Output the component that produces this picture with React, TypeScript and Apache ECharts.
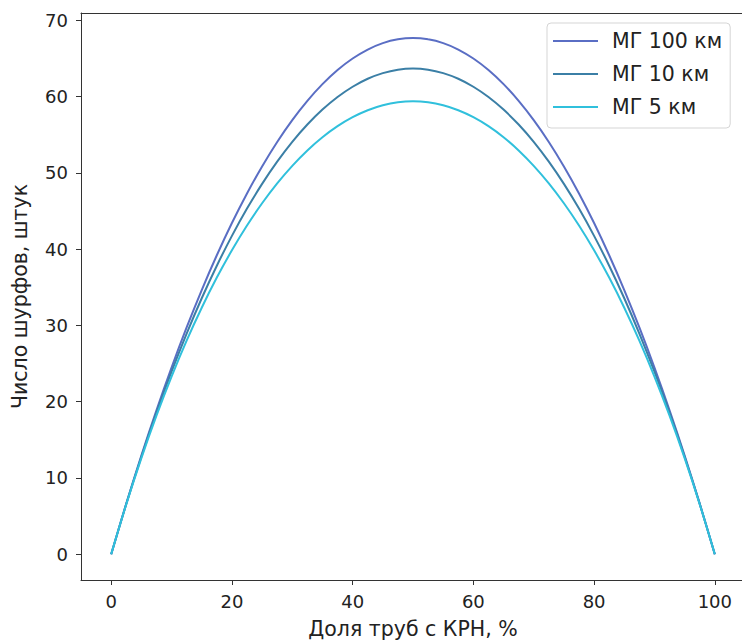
import React, { useEffect, useRef } from "react";
import * as echarts from "echarts";

const xShare = [
  0, 2.5, 5, 7.5, 10, 12.5, 15, 17.5, 20, 22.5, 25, 27.5, 30, 32.5, 35, 37.5, 40, 42.5, 45, 47.5, 50,
  52.5, 55, 57.5, 60, 62.5, 65, 67.5, 70, 72.5, 75, 77.5, 80, 82.5, 85, 87.5, 90, 92.5, 95, 97.5, 100,
];
const mg100 = [
  0, 6.64, 12.94, 18.88, 24.48, 29.74, 34.65, 39.21, 43.44, 47.32, 50.86, 54.07, 56.93, 59.46, 61.65, 63.5, 65.01, 66.19, 67.03, 67.53, 67.7,
  67.53, 67.03, 66.19, 65.01, 63.5, 61.65, 59.46, 56.93, 54.07, 50.86, 47.32, 43.44, 39.21, 34.65, 29.74, 24.48, 18.88, 12.94, 6.64, 0,
];
const mg10 = [
  0, 6.6, 12.78, 18.56, 23.94, 28.94, 33.57, 37.84, 41.75, 45.33, 48.57, 51.48, 54.08, 56.35, 58.31, 59.96, 61.31, 62.36, 63.1, 63.55, 63.7,
  63.55, 63.1, 62.36, 61.31, 59.96, 58.31, 56.35, 54.08, 51.48, 48.57, 45.33, 41.75, 37.84, 33.57, 28.94, 23.94, 18.56, 12.78, 6.6, 0,
];
const mg5 = [
  0, 6.55, 12.6, 18.17, 23.3, 28.02, 32.33, 36.28, 39.86, 43.11, 46.03, 48.64, 50.94, 52.96, 54.69, 56.14, 57.32, 58.23, 58.88, 59.27, 59.4,
  59.27, 58.88, 58.23, 57.32, 56.14, 54.69, 52.96, 50.94, 48.64, 46.03, 43.11, 39.86, 36.28, 32.33, 28.02, 23.3, 18.17, 12.6, 6.55, 0,
];
const seriesNames = ["МГ 100 км", "МГ 10 км", "МГ 5 км"];
const xTicks = [0, 20, 40, 60, 80, 100];
const yTicks = [0, 10, 20, 30, 40, 50, 60, 70];
const colors = ["#5a6ec4", "#3b7fa6", "#30c0dc"];

const FONT = "DejaVu Sans";
const TICK_FS = 18;
const TEXT_FS = 20.5;
const SPINE = { show: true, onZero: false, lineStyle: { color: "#333", width: 1 } };

export default function App() {
  const ref = useRef<HTMLDivElement>(null);
  useEffect(() => {
    if (!ref.current) return;
    const chart = echarts.init(ref.current, null, { renderer: "svg" });
    const allSeries = [mg100, mg10, mg5];
    chart.setOption({
      animation: false,
      backgroundColor: "#ffffff",
      grid: {
        left: 81,
        top: 13,
        width: 664,
        height: 567,
        show: false,
      },
      xAxis: [
        {
          type: "value",
          position: "bottom",
          min: -5,
          max: 105,
          name: "Доля труб с КРН, %",
          nameLocation: "middle",
          nameGap: 38,
          nameTextStyle: { fontFamily: FONT, fontSize: TEXT_FS, color: "#222" },
          axisLine: SPINE,
          splitLine: { show: false },
          axisTick: { show: true, length: 5, lineStyle: { color: "#333" }, customValues: xTicks },
          axisLabel: {
            fontFamily: FONT,
            fontSize: TICK_FS,
            color: "#222",
            margin: 12,
            customValues: xTicks,
          },
        },
        {
          type: "value",
          position: "top",
          min: -5,
          max: 105,
          axisLine: SPINE,
          splitLine: { show: false },
          axisTick: { show: false },
          axisLabel: { show: false },
        },
      ],
      yAxis: {
        type: "value",
        min: -3.38,
        max: 70.98,
        name: "Число шурфов, штук",
        nameLocation: "middle",
        nameGap: 51,
        nameTextStyle: { fontFamily: FONT, fontSize: TEXT_FS, color: "#222" },
        axisLine: SPINE,
        splitLine: { show: false },
        axisTick: { show: true, length: 5, lineStyle: { color: "#333" }, customValues: yTicks },
        axisLabel: {
          fontFamily: FONT,
          fontSize: TICK_FS,
          color: "#222",
          margin: 13,
          customValues: yTicks,
        },
      },
      legend: {
        orient: "vertical",
        left: 547,
        top: 23,
        icon: "rect",
        itemWidth: 45,
        itemHeight: 2,
        itemGap: 11,
        padding: [7, 8, 10, 6],
        backgroundColor: "rgba(255,255,255,0.85)",
        borderColor: "#d5d5d5",
        borderWidth: 1,
        borderRadius: 4,
        textStyle: {
          fontFamily: FONT,
          fontSize: TEXT_FS,
          lineHeight: 22,
          color: "#222",
          padding: [0, 0, 0, 9],
        },
        data: seriesNames,
      },
      series: allSeries.map((vals, i) => ({
        name: seriesNames[i],
        type: "line",
        xAxisIndex: 0,
        smooth: 0.3,
        symbol: "none",
        color: colors[i],
        lineStyle: { width: 2, color: colors[i] },
        data: xShare.map((x, j) => [x, vals[j]]),
      })),
    });
    return () => chart.dispose();
  }, []);
  return (
    <div style={{ position: "absolute", left: 0, top: 0, width: 742, height: 644, overflow: "hidden" }}>
      <div ref={ref} style={{ width: 760, height: 644 }} />
    </div>
  );
}
